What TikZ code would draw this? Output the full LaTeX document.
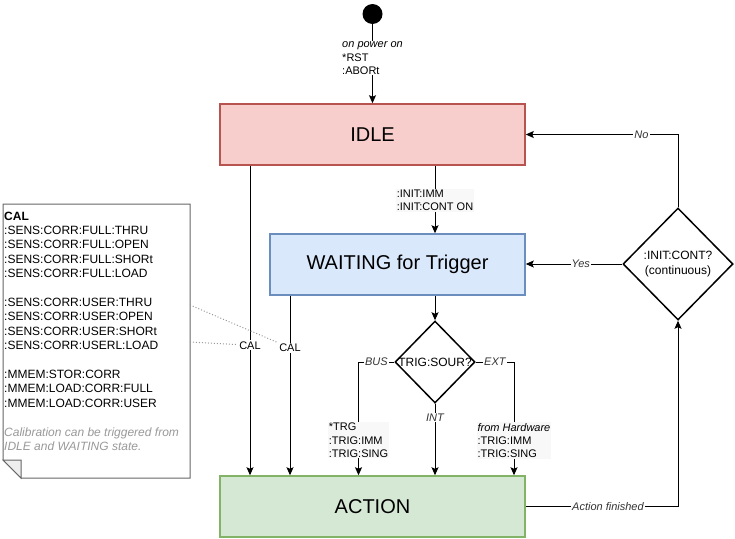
\documentclass[tikz,border=0pt]{standalone}
\usepackage{fontspec}
\setmainfont{Liberation Sans}
\usetikzlibrary{arrows.meta,shapes.geometric,calc}
\definecolor{idlefill}{HTML}{F8CECC}
\definecolor{idledraw}{HTML}{B85450}
\definecolor{waitfill}{HTML}{DAE8FC}
\definecolor{waitdraw}{HTML}{6C8EBF}
\definecolor{actfill}{HTML}{D5E8D4}
\definecolor{actdraw}{HTML}{82B366}
\definecolor{notedraw}{HTML}{666666}
\definecolor{foldfill}{HTML}{EEEEEE}
\definecolor{lblbg}{HTML}{F8F8F8}
\definecolor{lbltext}{HTML}{333333}
\definecolor{notegrey}{HTML}{999999}
\begin{document}
\begin{tikzpicture}[x=1pt,y=-1pt,
  state/.style={draw, line width=1.5pt, inner sep=0pt, font=\fontsize{20}{24}\selectfont},
  flow/.style={-{Stealth[length=8pt,width=7pt,inset=1.5pt]}, line width=1pt},
  cmd/.style={font=\fontsize{11}{13.2}\selectfont, fill=lblbg, inner sep=1pt, align=left},
  ilbl/.style={font=\fontsize{11}{13.2}\selectfont\itshape, text=lbltext, fill=white, inner sep=1pt},
  plbl/.style={font=\fontsize{11}{13.2}\selectfont, fill=white, inner sep=1pt},
  decision/.style={diamond, draw, line width=1.5pt, inner sep=0pt},
  dectext/.style={font=\fontsize{12}{14.4}\selectfont, align=center, inner sep=0pt}
]
\useasboundingbox (0,0) rectangle (735,538);

% initial state
\node[circle, fill=black, minimum size=20pt, inner sep=0pt] (init) at (372.5,14) {};

% states
\node[state, fill=idlefill, draw=idledraw, minimum width=305pt, minimum height=61pt] (idle) at (372.5,134.5) {IDLE};
\node[state, fill=waitfill, draw=waitdraw, minimum width=255pt, minimum height=61pt] (wait) at (397.5,264.5) {WAITING for Trigger};
\node[state, fill=actfill, draw=actdraw, minimum width=305pt, minimum height=61pt] (act) at (372.5,506.5) {ACTION};

% decisions
\node[decision, minimum width=80pt, minimum height=82pt] (trig) at (435,362) {};
\node[dectext] (trigtext) at (trig.center) {TRIG:SOUR?};
\node[decision, minimum width=110pt, minimum height=112pt] (initc) at (678,264) {};
\node[dectext] (initctext) at (initc.center) {:INIT:CONT?\\(continuous)};

% note
\draw[notedraw, fill=white, line width=1pt] (3,204) -- (190,204) -- (190,478) -- (21,478) -- (3,460) -- cycle;
\draw[notedraw, fill=foldfill, line width=1pt] (3,460) -- (21,460) -- (21,478) -- cycle;
\node[anchor=north west, inner sep=0pt, align=left, font=\fontsize{12}{14.4}\selectfont] (notetext) at (4,211.5)
 {\textbf{CAL}\\
  :SENS:CORR:FULL:THRU\\
  :SENS:CORR:FULL:OPEN\\
  :SENS:CORR:FULL:SHORt\\
  :SENS:CORR:FULL:LOAD\\[14.4pt]
  :SENS:CORR:USER:THRU\\
  :SENS:CORR:USER:OPEN\\
  :SENS:CORR:USER:SHORt\\
  :SENS:CORR:USERL:LOAD\\[14.4pt]
  :MMEM:STOR:CORR\\
  :MMEM:LOAD:CORR:FULL\\
  :MMEM:LOAD:CORR:USER\\[14.4pt]
  {\color{notegrey}\itshape Calibration can be triggered from}\\
  {\color{notegrey}\itshape IDLE and WAITING state.}};
\coordinate (n1) at (190,305);
\coordinate (n2) at (190,342);

% connectors
\draw[flow] (init) -- node[cmd, fill=white, pos=0.43]{{\itshape on power on}\\*RST\\:ABORt} (idle.north);
\draw[flow] (idle.south -| trig.north) -- node[cmd, pos=0.51]{:INIT:IMM\\:INIT:CONT ON} (wait.north -| trig.north);
\draw[flow] ([xshift=-122.5pt]idle.south) -- node[plbl, pos=0.58](cal1){CAL} ([xshift=-122.5pt]act.north);
\draw[flow] ([xshift=-107.5pt]wait.south) -- node[plbl, pos=0.29](cal2){CAL} ([xshift=-82.5pt]act.north);
\draw[flow] (wait.south -| trig.north) -- (trig.north);
\draw[flow] (trig.west) -| node[ilbl, pos=0.25]{BUS} node[cmd, pos=0.846]{*TRG\\:TRIG:IMM\\:TRIG:SING} ([xshift=-14pt]act.north);
\draw[flow] (trig.south) -- node[ilbl, pos=0.19]{INT} (trig.south |- act.north);
\draw[flow] (trig.east) -| node[ilbl, pos=0.25]{EXT} node[cmd, pos=0.846]{{\itshape from Hardware}\\:TRIG:IMM\\:TRIG:SING} ([xshift=141.5pt]act.north);
\draw[flow] (act.east) -| node[ilbl, pos=0.27]{Action finished} (initc.south);
\draw[flow] (initc.west) -- node[ilbl, pos=0.43]{Yes} (initc.west -| wait.east);
\draw[flow] (initc.north) |- node[ilbl, pos=0.62]{No} (idle.east);

% note links
\draw[dotted, notegrey, line width=1pt] (n1) -- (cal2);
\draw[dotted, notegrey, line width=1pt] (n2) -- (cal1);
\end{tikzpicture}
\end{document}
